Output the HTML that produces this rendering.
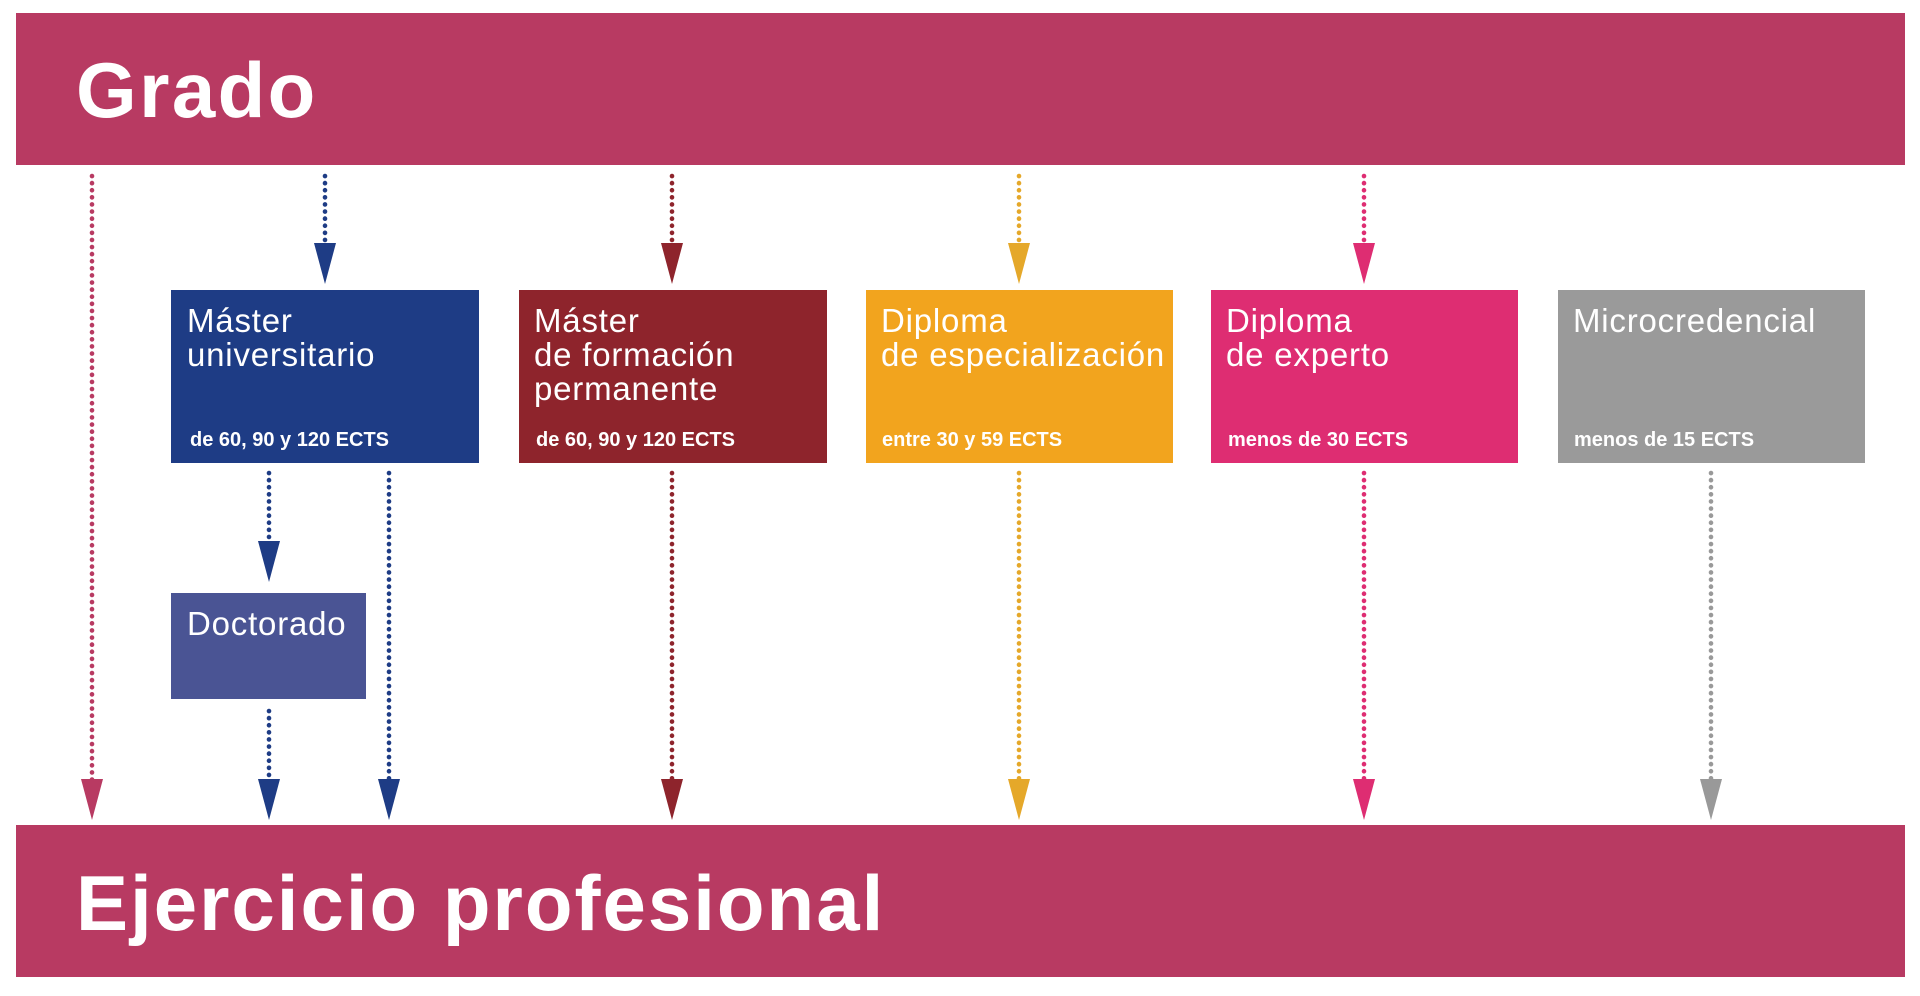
<!DOCTYPE html>
<html><head><meta charset="utf-8"><style>
html,body{margin:0;padding:0;background:#fff;width:1920px;height:996px;overflow:hidden}
svg{display:block}
.t{font-family:"Liberation Sans",sans-serif;fill:#fff}
.h{font-size:33px;letter-spacing:0.8px}
</style></head><body>
<svg width="1920" height="996" viewBox="0 0 1920 996" xmlns="http://www.w3.org/2000/svg">
<rect x="16" y="13" width="1889" height="152" fill="#b83a62"/>
<text class="t" x="76" y="117" font-size="78" font-weight="bold" letter-spacing="2.4">Grado</text>
<rect x="16" y="825" width="1889" height="152" fill="#b83a62"/>
<text class="t" x="76" y="930" font-size="78" font-weight="bold" letter-spacing="2">Ejercicio profesional</text>

<g stroke-width="4.6" stroke-linecap="round" stroke-dasharray="0.1 7" fill="none">
<line x1="92" y1="176" x2="92" y2="780" stroke="#b83a62"/>
<line x1="325" y1="176" x2="325" y2="244" stroke="#1e3c85"/>
<line x1="672" y1="176" x2="672" y2="244" stroke="#8e242c"/>
<line x1="1019" y1="176" x2="1019" y2="244" stroke="#e5a82a"/>
<line x1="1364" y1="176" x2="1364" y2="244" stroke="#de2d72"/>
<line x1="269" y1="473" x2="269" y2="542" stroke="#1e3c85"/>
<line x1="389" y1="473" x2="389" y2="780" stroke="#1e3c85"/>
<line x1="269" y1="711" x2="269" y2="780" stroke="#1e3c85"/>
<line x1="672" y1="473" x2="672" y2="780" stroke="#8e242c"/>
<line x1="1019" y1="473" x2="1019" y2="780" stroke="#e5a82a"/>
<line x1="1364" y1="473" x2="1364" y2="780" stroke="#de2d72"/>
<line x1="1711" y1="473" x2="1711" y2="780" stroke="#999"/>
</g>
<g>
<polygon points="314,243 336,243 325,284" fill="#1e3c85"/>
<polygon points="661,243 683,243 672,284" fill="#8e242c"/>
<polygon points="1008,243 1030,243 1019,284" fill="#e5a82a"/>
<polygon points="1353,243 1375,243 1364,284" fill="#de2d72"/>
<polygon points="258,541 280,541 269,582" fill="#1e3c85"/>
<polygon points="81,779 103,779 92,820" fill="#b83a62"/>
<polygon points="258,779 280,779 269,820" fill="#1e3c85"/>
<polygon points="378,779 400,779 389,820" fill="#1e3c85"/>
<polygon points="661,779 683,779 672,820" fill="#8e242c"/>
<polygon points="1008,779 1030,779 1019,820" fill="#e5a82a"/>
<polygon points="1353,779 1375,779 1364,820" fill="#de2d72"/>
<polygon points="1700,779 1722,779 1711,820" fill="#999"/>
</g>

<rect x="171" y="290" width="308" height="173" fill="#1e3c85"/>
<text class="t h"><tspan x="187" y="332">Máster</tspan><tspan x="187" y="366">universitario</tspan></text>
<text class="t" x="190" y="446" font-size="20" font-weight="bold">de 60, 90 y 120 ECTS</text>

<rect x="519" y="290" width="308" height="173" fill="#8e242c"/>
<text class="t h"><tspan x="534" y="332">Máster</tspan><tspan x="534" y="366">de formación</tspan><tspan x="534" y="400">permanente</tspan></text>
<text class="t" x="536" y="446" font-size="20" font-weight="bold">de 60, 90 y 120 ECTS</text>

<rect x="866" y="290" width="307" height="173" fill="#f2a41e"/>
<text class="t h"><tspan x="881" y="332">Diploma</tspan><tspan x="881" y="366">de especialización</tspan></text>
<text class="t" x="882" y="446" font-size="20" font-weight="bold">entre 30 y 59 ECTS</text>

<rect x="1211" y="290" width="307" height="173" fill="#de2d72"/>
<text class="t h"><tspan x="1226" y="332">Diploma</tspan><tspan x="1226" y="366">de experto</tspan></text>
<text class="t" x="1228" y="446" font-size="20" font-weight="bold">menos de 30 ECTS</text>

<rect x="1558" y="290" width="307" height="173" fill="#9a9a9a"/>
<text class="t h" x="1573" y="332">Microcredencial</text>
<text class="t" x="1574" y="446" font-size="20" font-weight="bold">menos de 15 ECTS</text>

<rect x="171" y="593" width="195" height="106" fill="#4a5494"/>
<text class="t h" x="187" y="635">Doctorado</text>
</svg>
</body></html>
